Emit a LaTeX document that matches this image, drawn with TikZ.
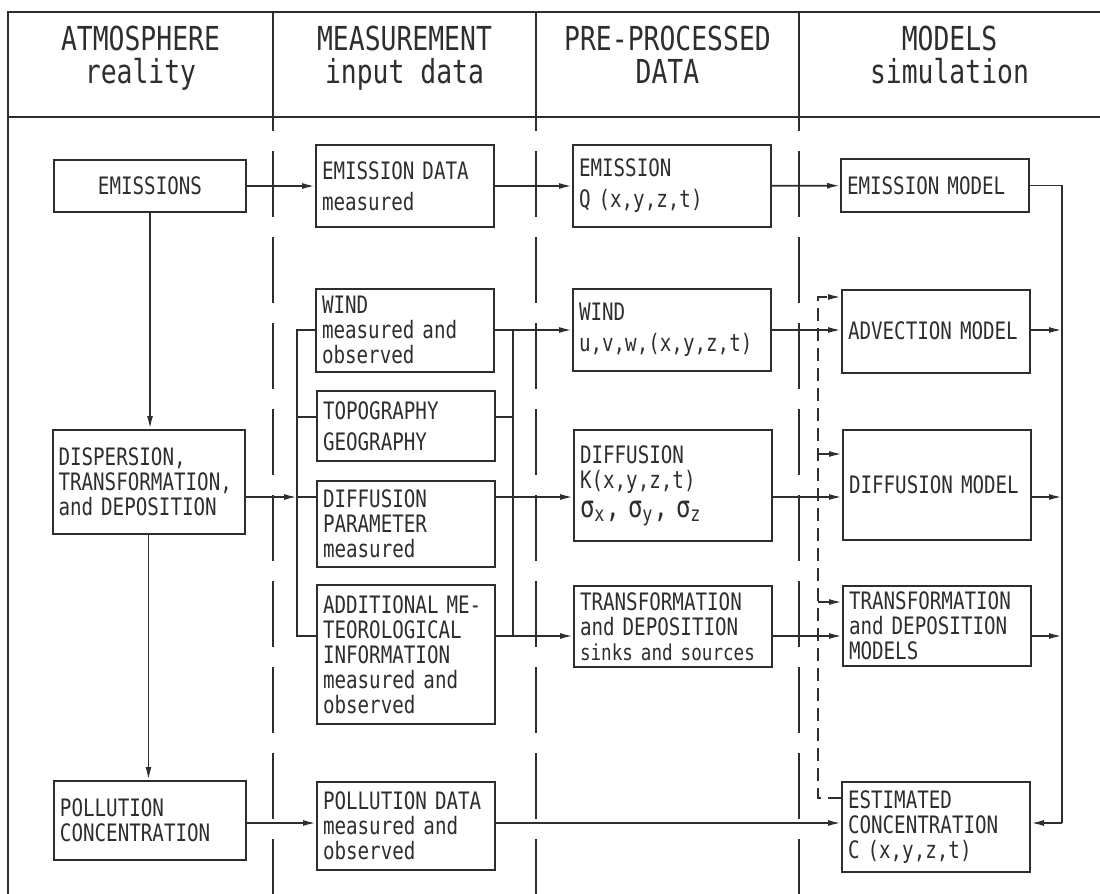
\documentclass[tikz,border=0pt]{standalone}
\usepackage{fontspec}
\setmainfont{DejaVu Sans Mono}[FakeStretch=0.8]
\usetikzlibrary{arrows.meta}
\definecolor{ink}{gray}{0.18}

\begin{document}
\begin{tikzpicture}[x=0.5pt,y=-0.5pt,ink,
    blk/.style={draw,line width=1pt,align=left,inner xsep=3pt,inner ysep=2pt,
      font=\fontsize{12}{12.5}\selectfont},
    hdr/.style={align=center,font=\fontsize{16.5}{16.5}\selectfont},
    con/.style={line width=0.9pt},
    arr/.style={con,-{Latex[length=6.5pt,width=3pt]}},
    fb/.style={arr,dash pattern=on 6.5pt off 3.5pt},
    coldiv/.style={line width=1pt,dash pattern=on 33pt off 10pt,dash phase=26pt}]
  \useasboundingbox[fill=white] (0,0) rectangle (1100,894);

  \draw[line width=1.1pt] (1100,12) -- (8,12) -- (8,894);
  \draw[line width=1.1pt] (8,117) -- (1100,117);
  \foreach \cx in {273,536,799}{
    \draw[line width=1pt] (\cx,12) -- (\cx,117);
    \draw[coldiv] (\cx,117) -- (\cx,894);
  }

  \node[hdr] (hatm) at (140.5,58) {ATMOSPHERE\\reality};
  \node[hdr] (hmeas) at (404.5,58) {MEASUREMENT\\input data};
  \node[hdr] (hpre) at (667.5,58) {PRE-PROCESSED\\DATA\vphantom{y}};
  \node[hdr] (hmod) at (949.5,58) {MODELS\\simulation\vphantom{y}};

  \node[blk,align=center,text width=90pt,minimum height=26pt] (emis) at (150,186) {EMISSIONS};
  \node[blk,text width=90pt,minimum height=52pt] (disp) at (148.5,482)
    {DISPERSION,\\TRANSFORMATION,\\and DEPOSITION};
  \node[blk,text width=90pt,minimum height=39.5pt] (pollc) at (150,820.5)
    {POLLUTION\\CONCENTRATION};

  \node[blk,text width=83pt,minimum height=41pt] (emisd) at (405,186) {EMISSION DATA\\[3pt]measured};
  \node[blk,text width=83pt,minimum height=41.5pt] (windm) at (405,330) {WIND\\measured and\\observed};
  \node[blk,text width=83pt,minimum height=35pt] (topo) at (406,426) {TOPOGRAPHY\\[3pt]GEOGRAPHY};
  \node[blk,text width=83pt,minimum height=43pt] (diffp) at (406,524) {DIFFUSION\\PARAMETER\\measured};
  \node[blk,text width=83pt,minimum height=69.5pt] (addm) at (406,654.5)
    {ADDITIONAL ME-\\TEOROLOGICAL\\INFORMATION\\measured and\\observed};
  \node[blk,text width=83pt,minimum height=44pt] (polld) at (406,826) {POLLUTION DATA\\measured and\\observed};

  \node[blk,text width=93pt,minimum height=41pt] (emisq) at (672,186) {EMISSION\\[3pt]Q (x,y,z,t)};
  \node[blk,text width=93pt,minimum height=41pt] (windp) at (672,330) {WIND\\[3pt]u,v,w,(x,y,z,t)};
  \node[blk,text width=93pt,minimum height=55.5pt] (diffk) at (673,485.5)
    {DIFFUSION\\K(x,y,z,t)\\[2pt]{\fontsize{15}{15}\selectfont σ\textsubscript{x}, σ\textsubscript{y}, σ\textsubscript{z}}};
  \node[blk,text width=93pt,minimum height=40.5pt] (trans) at (673,626.5)
    {TRANSFORMATION\\and DEPOSITION\\{\fontsize{11}{12}\selectfont sinks and sources}};

  \node[blk,text width=88pt,minimum height=26.5pt] (emod) at (935,185.5) {EMISSION MODEL};
  \node[blk,text width=88pt,minimum height=41.5pt] (advm) at (936,331) {ADVECTION MODEL};
  \node[blk,text width=88pt,minimum height=55pt] (diffm) at (937,485) {DIFFUSION MODEL};
  \node[blk,text width=88pt,minimum height=40pt] (tmod) at (937,626) {TRANSFORMATION\\and DEPOSITION\\MODELS};
  \node[blk,text width=88pt,minimum height=45pt] (estc) at (936,827)
    {ESTIMATED\\CONCENTRATION\\C (x,y,z,t)};

  \coordinate (lb) at (297,0);
  \coordinate (rb) at (513,0);
  \coordinate (mb) at (1062,0);
  \coordinate (fx) at (818,0);
  \coordinate (rt) at (0,417);
  \coordinate (rd) at (0,497);
  \coordinate (ra) at (0,636);
  \coordinate (rp) at (0,823);
  \coordinate (rf) at (0,798);
  \coordinate (rtop) at (0,297);
  \coordinate (rfd) at (0,454);
  \coordinate (rft) at (0,602);

  \draw[arr] (emis) -- (emisd);
  \draw[arr] (emisd) -- (emisq);
  \draw[arr] (emisq) -- (emod);
  \draw[arr] (emis.south) -- (emis.south |- disp.north);
  \draw[arr] (disp.south) -- (disp.south |- pollc.north);

  \draw[con] (windm.west) -- (lb |- windm.west) -- (lb |- ra) -- (addm.west |- ra);
  \draw[con] (topo.west |- rt) -- (lb |- rt);
  \draw[arr] (disp.east |- rd) -- (lb |- rd);
  \draw[con] (lb |- rd) -- (diffp.west |- rd);

  \draw[con] (rb |- windm.east) -- (rb |- ra);
  \draw[con] (topo.east |- rt) -- (rb |- rt);
  \draw[arr] (windm) -- (windp);
  \draw[arr] (diffp.east |- rd) -- (diffk.west |- rd);
  \draw[arr] (addm.east |- ra) -- (trans.west |- ra);

  \draw[arr] (windp) -- (windp -| advm.west);
  \draw[arr] (diffk.east |- rd) -- (diffm.west |- rd);
  \draw[arr] (trans.east |- ra) -- (tmod.west |- ra);
  \draw[arr] (pollc.east |- rp) -- (polld.west |- rp);
  \draw[arr] (polld.east |- rp) -- (estc.west |- rp);

  \draw[con] (emod.east) -- (mb |- emod.east) -- (mb |- rp);
  \draw[arr] (advm.east |- windp) -- (mb |- windp);
  \draw[arr] (diffm.east |- rd) -- (mb |- rd);
  \draw[arr] (tmod.east |- ra) -- (mb |- ra);
  \draw[arr] (mb |- rp) -- (estc.east |- rp);

  \draw[fb] (estc.west |- rf) -- (fx |- rf) -- (fx |- rtop) -- (advm.west |- rtop);
  \draw[fb] (fx |- rfd) -- (diffm.west |- rfd);
  \draw[fb] (fx |- rft) -- (tmod.west |- rft);
\end{tikzpicture}
\end{document}
